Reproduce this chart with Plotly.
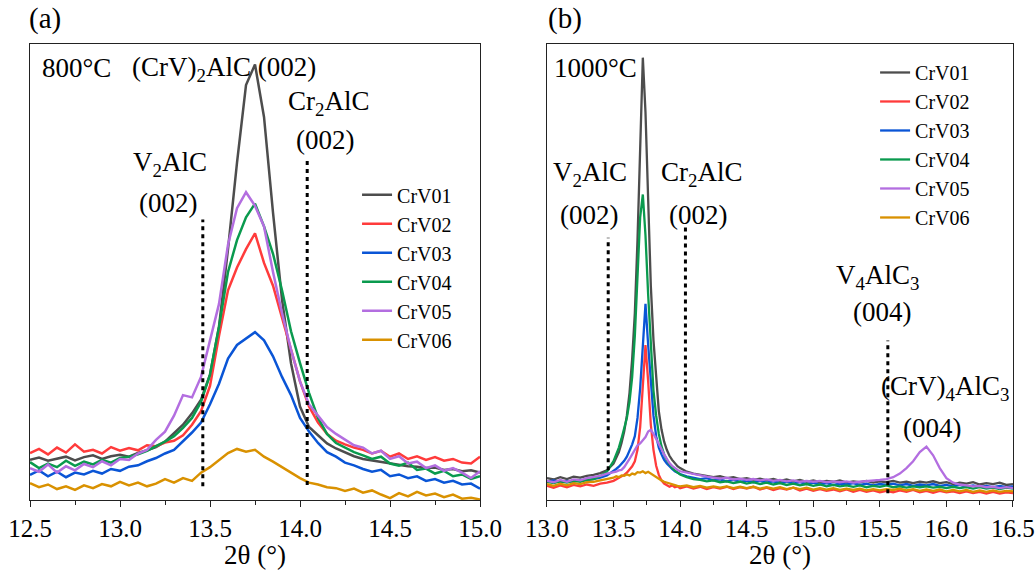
import plotly.graph_objects as go

FONT = "Liberation Serif"

series_names = ["CrV01", "CrV02", "CrV03", "CrV04", "CrV05", "CrV06"]
series_colors = ["#4d4d4d", "#ff3b3b", "#0a55d6", "#0a9a4e", "#b36ee0", "#d99100"]

# ---------------- Panel (a): 800 C ----------------
x_a = [12.50, 12.55, 12.60, 12.65, 12.70, 12.75, 12.80, 12.85, 12.90, 12.95,
       13.00, 13.05, 13.10, 13.15, 13.20, 13.25, 13.30, 13.35, 13.40, 13.45,
       13.50, 13.55, 13.60, 13.65, 13.70, 13.75, 13.80, 13.85, 13.90, 13.95,
       14.00, 14.05, 14.10, 14.15, 14.20, 14.25, 14.30, 14.35, 14.40, 14.45,
       14.50, 14.55, 14.60, 14.65, 14.70, 14.75, 14.80, 14.85, 14.90, 14.95,
       15.00]

a_crv01 = [8.8, 9.3, 8.6, 9.1, 9.5, 8.7, 9.4, 9.8, 9.0, 9.6,
           9.9, 9.5, 10.3, 10.9, 11.6, 12.8, 14.6, 16.5, 19.0, 22.0,
           27.5, 38.0, 55.0, 74.0, 91.0, 95.5, 84.0, 63.0, 44.0, 30.0,
           20.5, 16.0, 14.2, 12.4, 11.3, 10.4, 9.6, 9.0, 8.7, 8.3,
           8.0, 7.8, 7.4, 7.3, 7.0, 7.1, 6.6, 6.8, 6.3, 6.5,
           6.0]
a_crv02 = [10.3, 11.2, 10.0, 11.5, 10.4, 12.2, 10.6, 11.0, 10.2, 11.6,
           10.8, 11.4, 10.9, 12.0, 11.8, 12.6, 13.0, 14.2, 16.5, 19.5,
           25.0, 36.0, 46.0, 51.0, 55.0, 58.5, 52.0, 47.0, 40.0, 33.0,
           26.0, 20.5, 17.0, 14.5, 13.0, 12.2, 11.5, 11.0, 10.2, 10.8,
           9.5, 10.2, 9.0, 9.6, 8.8, 9.4, 8.6, 9.0, 8.2, 8.0,
           9.5]
a_crv03 = [5.5, 6.5, 5.2, 6.2, 5.0, 6.0, 5.6, 6.4, 5.8, 6.8,
           6.4, 7.3, 7.6, 8.5, 9.2, 10.2, 11.0, 12.8, 14.8, 17.0,
           21.0, 25.5, 31.0, 34.0, 35.5, 36.8, 35.0, 31.5, 27.0, 23.0,
           18.0, 15.0, 12.5, 10.5, 9.5, 8.2, 7.6, 6.8, 6.2, 6.6,
           5.2, 5.6, 4.8, 5.2, 4.2, 4.6, 3.8, 4.2, 3.4, 3.6,
           2.5]
a_crv04 = [8.3, 7.0, 8.0, 7.2, 8.6, 7.5, 8.4, 7.8, 8.8, 8.2,
           9.2, 9.5, 10.0, 10.8, 11.8, 12.8, 14.0, 15.8, 18.0, 21.5,
           27.5, 38.0, 50.0, 57.0, 62.0, 65.0, 60.0, 54.0, 46.0, 37.0,
           30.0, 23.5, 18.0, 14.5, 12.5, 11.5, 10.5, 9.8, 9.0, 9.5,
           8.0, 7.5, 8.2, 6.6, 6.9, 5.8, 6.4, 5.2, 5.6, 4.6,
           5.2]
a_crv05 = [7.0, 6.2, 7.8, 6.0, 7.4, 6.5, 7.9, 7.2, 8.5, 7.6,
           9.0, 8.8, 10.2, 11.0, 13.2, 15.0, 18.5, 23.0, 22.5, 27.0,
           35.0, 43.0, 56.0, 64.0, 67.5, 64.5, 60.0, 50.0, 41.0, 33.0,
           26.0, 21.0, 18.5, 16.0, 14.5, 13.2, 12.0, 11.5, 10.2, 10.8,
           9.0, 9.6, 8.0, 8.4, 7.0, 7.6, 6.4, 7.0, 6.0, 4.8,
           6.3]
a_crv06 = [3.7, 2.8, 3.4, 2.4, 3.0, 2.2, 3.2, 2.6, 3.5, 3.0,
           4.0, 3.2, 3.8, 3.0, 3.6, 4.6, 3.8, 4.8, 4.2, 6.0,
           7.2, 8.8, 10.3, 11.2, 10.6, 11.0, 9.5, 8.4, 7.2, 6.0,
           4.8, 3.8, 3.4, 2.8, 2.6, 2.0, 2.5, 1.6, 2.1, 1.2,
           0.4, 1.5, 0.8, 1.8, 1.0, 1.4, 0.6, 1.2, 0.3, 0.5,
           0.1]

# ---------------- Panel (b): 1000 C ----------------
x_b = [13.00, 13.05, 13.10, 13.15, 13.20, 13.25, 13.30, 13.35, 13.40, 13.45, 13.50,
       13.52, 13.54, 13.56, 13.58, 13.60, 13.62, 13.64, 13.66, 13.68, 13.70,
       13.72, 13.74, 13.76, 13.78, 13.80, 13.82, 13.84, 13.86, 13.88, 13.90,
       13.92, 13.94, 13.96, 13.98, 14.00,
       14.05, 14.10, 14.15, 14.20, 14.25, 14.30, 14.35, 14.40, 14.45, 14.50,
       14.55, 14.60, 14.65, 14.70, 14.75, 14.80, 14.85, 14.90, 14.95, 15.00,
       15.05, 15.10, 15.15, 15.20, 15.25, 15.30, 15.35, 15.40, 15.45, 15.50,
       15.55, 15.60, 15.65, 15.70, 15.75, 15.80, 15.85, 15.90, 15.95, 16.00,
       16.05, 16.10, 16.15, 16.20, 16.25, 16.30, 16.35, 16.40, 16.45, 16.50]

b_crv01 = [4.8, 4.5, 5.0, 4.6, 5.1, 4.9, 5.3, 5.5, 5.9, 6.5, 8.0,
           9.2, 10.5, 12.5, 15.0, 18.5, 23.5, 31.0, 41.0, 57.0, 80.0,
           97.0, 85.0, 63.0, 47.0, 35.0, 26.0, 19.5, 15.5, 12.8, 11.0,
           9.7, 8.8, 8.0, 7.4, 7.0,
           6.2, 5.8, 5.5, 5.3, 5.0, 5.2, 4.8, 5.0, 4.6, 4.8,
           4.4, 4.7, 4.3, 4.6, 4.2, 4.5, 4.1, 4.4, 4.0, 4.3,
           3.9, 4.2, 4.0, 4.3, 3.8, 4.1, 3.9, 4.2, 3.8, 4.1,
           3.9, 4.2, 3.8, 4.0, 3.7, 4.0, 3.8, 4.1, 3.7, 3.9,
           3.5, 3.8, 3.6, 3.9, 3.4, 3.7, 3.5, 3.8, 3.3, 3.5]
b_crv02 = [3.1, 2.7, 3.2, 2.8, 3.3, 3.0, 3.4, 3.1, 3.6, 3.8, 4.2,
           4.5, 4.8, 5.2, 5.5, 6.0, 6.6, 7.4, 8.5, 11.0, 16.0,
           25.0, 34.0, 26.0, 16.5, 11.0, 7.5, 5.5, 4.3, 3.6, 3.2,
           2.9, 3.2, 2.8, 3.0, 2.6,
           3.0, 2.5, 2.9, 2.4, 2.8, 2.5, 2.9, 2.4, 2.8, 2.5,
           2.9, 2.3, 2.7, 2.2, 2.6, 2.3, 2.7, 2.1, 2.5, 2.0,
           2.4, 2.0, 2.3, 1.9, 2.3, 1.8, 2.2, 1.8, 2.1, 1.7,
           2.0, 1.7, 2.1, 1.8, 2.2, 1.7, 2.0, 1.6, 2.0, 1.7,
           1.9, 1.5, 1.9, 1.5, 1.8, 1.4, 1.8, 1.4, 1.7, 1.5]
b_crv03 = [4.0, 4.3, 3.9, 4.2, 4.0, 4.4, 4.3, 4.6, 4.9, 5.4, 6.3,
           6.8, 7.3, 7.9, 8.6, 9.5, 10.8, 12.2, 14.0, 18.0, 24.5,
           35.0, 43.0, 34.0, 25.0, 18.5, 14.0, 11.5, 10.0, 8.8, 8.0,
           7.3, 6.8, 6.3, 6.0, 5.7,
           5.2, 4.9, 4.6, 4.8, 4.3, 4.5, 4.1, 4.4, 4.0, 4.2,
           3.9, 4.2, 3.8, 4.1, 3.7, 4.0, 3.6, 3.9, 3.5, 3.8,
           3.4, 3.7, 3.3, 3.6, 3.4, 3.7, 3.3, 3.6, 3.2, 3.5,
           3.3, 3.6, 3.2, 3.5, 3.1, 3.4, 3.2, 3.5, 3.1, 3.3,
           3.0, 3.3, 2.9, 3.2, 2.9, 3.1, 2.8, 3.1, 2.8, 3.0]
b_crv04 = [4.0, 3.7, 4.1, 3.8, 4.2, 4.0, 4.4, 4.6, 5.2, 6.2, 8.5,
           10.0, 11.5, 13.5, 15.5, 18.0, 21.5, 27.0, 36.0, 48.0, 62.0,
           67.0, 58.0, 45.0, 34.0, 24.0, 18.5, 14.5, 11.8, 10.0, 8.8,
           7.8, 7.0, 6.5, 6.0, 5.6,
           5.0, 4.6, 4.4, 4.1, 4.3, 3.9, 4.1, 3.7, 4.0, 3.6,
           3.9, 3.5, 3.8, 3.4, 3.7, 3.3, 3.6, 3.2, 3.5, 3.1,
           3.4, 3.0, 3.3, 3.0, 3.2, 2.9, 3.2, 2.8, 3.1, 2.9,
           3.2, 2.8, 3.0, 2.7, 3.0, 2.8, 3.0, 2.7, 2.9, 2.6,
           2.9, 2.6, 2.8, 2.5, 2.8, 2.5, 2.7, 2.4, 2.7, 2.5]
b_crv05 = [4.2, 3.9, 4.4, 4.0, 4.5, 4.3, 4.8, 5.0, 5.3, 5.8, 6.0,
           6.2, 6.5, 6.6, 7.2, 8.0, 9.0, 10.0, 11.0, 12.0, 12.4,
           13.0, 13.8, 15.0, 15.4, 14.5, 13.5, 12.3, 11.2, 10.0, 9.0,
           8.1, 7.5, 7.0, 6.6, 6.3,
           6.0, 5.6, 5.4, 5.1, 4.9, 4.7, 4.9, 4.5, 4.7, 4.4,
           4.6, 4.3, 4.5, 4.2, 4.4, 4.1, 4.3, 4.0, 4.2, 4.0,
           4.2, 3.9, 4.1, 3.9, 4.1, 3.8, 4.0, 4.1, 4.3, 4.4,
           4.6, 5.0, 5.8, 7.0, 8.5, 10.5, 11.7, 9.8, 7.0, 4.8,
           3.8, 3.4, 3.2, 3.0, 3.1, 2.8, 2.9, 2.6, 2.8, 2.6]
b_crv06 = [3.5, 3.1, 3.6, 3.2, 3.7, 3.5, 3.9, 4.0, 4.3, 4.6, 4.9,
           5.2, 5.0, 5.4, 5.3, 5.6, 5.4, 5.8, 5.6, 6.1, 6.0,
           6.3, 5.9, 6.2, 5.8, 5.4, 5.0, 4.7, 4.3, 4.0, 3.8,
           3.6, 3.4, 3.3, 3.1, 3.0,
           3.2, 2.8, 3.1, 2.7, 3.0, 2.7, 3.0, 2.6, 2.9, 2.6,
           2.9, 2.5, 2.8, 2.5, 2.8, 2.4, 2.7, 2.4, 2.7, 2.3,
           2.6, 2.3, 2.6, 2.2, 2.5, 2.2, 2.5, 2.1, 2.4, 2.1,
           2.4, 2.2, 2.5, 2.1, 2.4, 2.0, 2.3, 2.0, 2.3, 1.9,
           2.2, 1.9, 2.2, 1.8, 2.1, 1.8, 2.1, 1.8, 2.0, 1.9]

# Reference (standard) peak positions drawn as dotted markers
ref_a_pos = [13.46, 14.04]
ref_a_top = [61.5, 74.5]
ref_a_bot = [3.0, 3.3]
ref_b_pos = [13.46, 14.04, 15.56]
ref_b_top = [57.5, 60.0, 35.0]
ref_b_bot = [6.5, 8.0, 1.5]

# Peak labels: (text, x, y, anchor)
labels_a = [
    ("800°C", 12.555, 94.7, "left"),
    ("(CrV)<sub>2</sub>AlC (002)", 13.578, 94.5, "center"),
    ("Cr<sub>2</sub>AlC", 14.16, 87.0, "center"),
    ("(002)", 14.14, 79.0, "center"),
    ("V<sub>2</sub>AlC", 13.275, 73.6, "center"),
    ("(002)", 13.267, 65.1, "center"),
]
labels_b = [
    ("1000°C", 13.035, 94.7, "left"),
    ("V<sub>2</sub>AlC", 13.323, 71.5, "center"),
    ("(002)", 13.315, 62.5, "center"),
    ("Cr<sub>2</sub>AlC", 14.16, 71.5, "center"),
    ("(002)", 14.134, 62.5, "center"),
    ("V<sub>4</sub>AlC<sub>3</sub>", 15.482, 49.0, "center"),
    ("(004)", 15.516, 41.2, "center"),
    ("(CrV)<sub>4</sub>AlC<sub>3</sub>", 15.99, 24.6, "center"),
    ("(004)", 15.892, 15.8, "center"),
]

ys_a = [a_crv01, a_crv02, a_crv03, a_crv04, a_crv05, a_crv06]
ys_b = [b_crv01, b_crv02, b_crv03, b_crv04, b_crv05, b_crv06]

fig = go.Figure()
for name, color, ys in zip(series_names, series_colors, ys_a):
    fig.add_trace(go.Scatter(x=x_a, y=ys, mode="lines", name=name,
                             line=dict(color=color, width=2.5),
                             xaxis="x", yaxis="y", legend="legend"))
for name, color, ys in zip(series_names, series_colors, ys_b):
    fig.add_trace(go.Scatter(x=x_b, y=ys, mode="lines", name=name,
                             line=dict(color=color, width=2.3),
                             xaxis="x2", yaxis="y2", legend="legend2"))

for p, t, b in zip(ref_a_pos, ref_a_top, ref_a_bot):
    fig.add_trace(go.Scatter(x=[p, p], y=[b, t], mode="lines", showlegend=False,
                             hoverinfo="skip", xaxis="x", yaxis="y",
                             line=dict(color="black", width=3, dash="4px,4px")))
for p, t, b in zip(ref_b_pos, ref_b_top, ref_b_bot):
    fig.add_trace(go.Scatter(x=[p, p], y=[b, t], mode="lines", showlegend=False,
                             hoverinfo="skip", xaxis="x2", yaxis="y2",
                             line=dict(color="black", width=3, dash="4px,4px")))

LABEL_SIZE = 27
annotations = []
for txt, x, y, anc in labels_a:
    annotations.append(dict(text=txt, x=x, y=y, xref="x", yref="y", showarrow=False,
                            xanchor=anc, yanchor="middle",
                            font=dict(family=FONT, size=LABEL_SIZE, color="black")))
for txt, x, y, anc in labels_b:
    annotations.append(dict(text=txt, x=x, y=y, xref="x2", yref="y2", showarrow=False,
                            xanchor=anc, yanchor="middle",
                            font=dict(family=FONT, size=LABEL_SIZE, color="black")))
annotations.append(dict(text="(a)", x=-0.003, y=1.057, xref="paper", yref="paper",
                        showarrow=False, xanchor="left", yanchor="middle",
                        font=dict(family=FONT, size=29, color="black")))
annotations.append(dict(text="(b)", x=0.5249, y=1.057, xref="paper", yref="paper",
                        showarrow=False, xanchor="left", yanchor="middle",
                        font=dict(family=FONT, size=29, color="black")))

axis_common = dict(showline=True, mirror=True, linecolor="#222", linewidth=1.3,
                   showgrid=False, zeroline=False, automargin=False)
xcommon = dict(axis_common, dtick=0.5, tickformat=".1f", ticks="outside", ticklen=6,
               tickwidth=1.3, tickcolor="#222",
               minor=dict(dtick=0.25, ticks="outside", ticklen=3.5, tickwidth=1.3,
                          tickcolor="#222"),
               tickfont=dict(family=FONT, size=25, color="black"),
               title=dict(text="2θ (°)", font=dict(family=FONT, size=27, color="black"),
                          standoff=2))
ycommon = dict(axis_common, range=[0, 100], showticklabels=False, ticks="")

legend_common = dict(font=dict(family=FONT, size=20, color="black"),
                     bgcolor="rgba(0,0,0,0)", borderwidth=0, tracegroupgap=0,
                     xanchor="left", yanchor="top")

fig.update_layout(
    width=1035, height=570,
    margin=dict(l=30, r=22, t=44, b=70, autoexpand=False),
    paper_bgcolor="white", plot_bgcolor="white",
    font=dict(family=FONT, color="black"),
    xaxis=dict(xcommon, domain=[0, 0.4578], range=[12.5, 15.0], tick0=12.5, anchor="y"),
    yaxis=dict(ycommon, anchor="x"),
    xaxis2=dict(xcommon, domain=[0.5259, 1.0], range=[13.0, 16.5], tick0=13.0, anchor="y2"),
    yaxis2=dict(ycommon, anchor="x2"),
    legend=dict(legend_common, x=0.3327, y=0.712),
    legend2=dict(legend_common, x=0.8597, y=0.9803),
    annotations=annotations,
    showlegend=True,
)

fig.write_html("out.html")
